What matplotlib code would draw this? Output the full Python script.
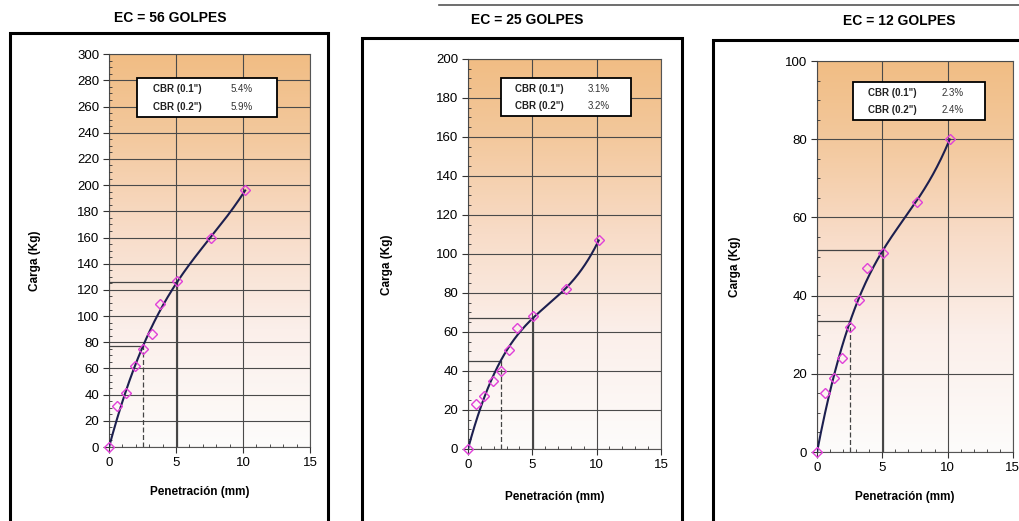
import matplotlib
matplotlib.use("Agg")
import matplotlib.pyplot as plt
import numpy as np
from matplotlib.colors import LinearSegmentedColormap
from matplotlib.patches import Rectangle
from matplotlib.ticker import MultipleLocator

plt.rcParams['font.family'] = ['Liberation Sans', 'DejaVu Sans']

# penetracion normalizada (mm)
penetracion = [0, 0.63, 1.27, 1.91, 2.54, 3.18, 3.81, 5.08, 7.62, 10.16]

carga_56 = [0, 31, 41, 62, 75, 86, 109, 127, 160, 196]
carga_25 = [0, 23, 27, 35, 40, 51, 62, 68, 82, 107]
carga_12 = [0, 15, 19, 24, 32, 39, 47, 51, 64, 80]

titulos = ['EC = 56 GOLPES', 'EC = 25 GOLPES', 'EC = 12 GOLPES']
cbr_01 = ['5.4%', '3.1%', '2.3%']
cbr_02 = ['5.9%', '3.2%', '2.4%']
y_max = [300, 200, 100]
y_paso = [20, 20, 20]
y_menor = [5, 5, 5]

fig = plt.figure(figsize=(10.2, 5.21), dpi=100)

# posiciones [left, bottom, width, height] de cada grafico
ejes_pos = [[0.1069, 0.142, 0.197, 0.754],
            [0.4588, 0.1382, 0.1892, 0.7486],
            [0.801, 0.1324, 0.192, 0.7505]]
marcos = [[0.010, -0.05, 0.312, 0.987],
          [0.355, -0.05, 0.314, 0.977],
          [0.699, -0.05, 0.32, 0.973]]
titulo_pos = [(0.167, 0.966), (0.517, 0.962), (0.882, 0.960)]
ylabel_x = [0.034, 0.379, 0.721]
xlabel_y = [0.055, 0.046, 0.046]
cajas = [[0.14, 0.84, 0.696, 0.099],
         [0.171, 0.854, 0.674, 0.097],
         [0.184, 0.849, 0.673, 0.097]]

fondo = LinearSegmentedColormap.from_list(
    'fondo', [(0.0, '#fdfcfb'), (0.3, '#fbefea'), (0.55, '#f8dcc8'),
              (0.8, '#f3c89c'), (1.0, '#f1bd84')])
grad = np.linspace(0, 1, 256).reshape(-1, 1)


def ajuste(x, y):
    # cubica que pasa por el origen
    x = np.asarray(x, float)
    A = np.column_stack([x ** 3, x ** 2, x])
    c, *_ = np.linalg.lstsq(A, np.asarray(y, float), rcond=None)
    return lambda t: c[0] * t ** 3 + c[1] * t ** 2 + c[2] * t


for i, carga in enumerate([carga_56, carga_25, carga_12]):
    ax = fig.add_axes(ejes_pos[i])
    ax.imshow(grad, aspect='auto', cmap=fondo, origin='lower',
              extent=[0, 1, 0, 1], transform=ax.transAxes, zorder=0)

    # curva ajustada
    f = ajuste(penetracion, carga)
    xs = np.linspace(0, penetracion[-1], 200)
    ax.plot(xs, f(xs), color='#1c1f4f', lw=1.5, zorder=4)
    ax.plot(penetracion, carga, linestyle='none', marker='D', ms=5,
            mfc='none', mec='#e040d8', mew=1.0, zorder=5, clip_on=False)

    # lineas de lectura a 0.1" y 0.2"
    for xr, ls in [(2.54, (0, (4, 2))), (5.08, '-')]:
        yr = f(xr)
        ax.plot([xr, xr], [0, yr], color='#444444', lw=0.9, ls=ls, zorder=3)
        ax.plot([0, xr], [yr, yr], color='#444444', lw=0.9, zorder=3)

    ax.set_xlim(0, 15)
    ax.set_ylim(0, y_max[i])
    ax.xaxis.set_major_locator(MultipleLocator(5))
    ax.xaxis.set_minor_locator(MultipleLocator(1))
    ax.yaxis.set_major_locator(MultipleLocator(y_paso[i]))
    ax.yaxis.set_minor_locator(MultipleLocator(y_menor[i]))
    ax.grid(True, which='major', color='#4a4a4a', lw=0.8, zorder=1)
    ax.set_axisbelow(False)
    ax.tick_params(which='major', direction='out', length=4, labelsize=9.5,
                   color='#333333', pad=3)
    ax.tick_params(which='minor', direction='in', length=2.5, color='#333333')
    for s in ax.spines.values():
        s.set_color('#555555')
        s.set_linewidth(0.8)

    # caja con los valores de CBR
    bx, by, bw, bh = cajas[i]
    ax.add_patch(Rectangle((bx, by), bw, bh, transform=ax.transAxes,
                           facecolor='white', edgecolor='black', lw=1.3, zorder=6))
    for fila, (etq, val) in enumerate([('CBR (0.1")', cbr_01[i]),
                                       ('CBR (0.2")', cbr_02[i])]):
        yy = by + bh * (0.72 - 0.45 * fila)
        ax.text(bx + 0.11 * bw, yy, etq, transform=ax.transAxes, fontsize=7,
                fontweight='bold', va='center', color='#222222', zorder=7)
        ax.text(bx + 0.67 * bw, yy, val, transform=ax.transAxes, fontsize=7,
                va='center', color='#333333', zorder=7)

    # marco exterior de cada grafico
    mx, my, mw, mh = marcos[i]
    fig.patches.append(Rectangle((mx, my), mw, mh, transform=fig.transFigure,
                                 fill=False, edgecolor='black', lw=2.2))

    fig.text(titulo_pos[i][0], titulo_pos[i][1], titulos[i], ha='center',
             va='center', fontsize=10, fontweight='bold')
    fig.text(ylabel_x[i], ejes_pos[i][1] + ejes_pos[i][3] / 2 - 0.02, 'Carga (Kg)',
             rotation=90, ha='center', va='center', fontsize=8.5, fontweight='bold')
    fig.text(ejes_pos[i][0] + ejes_pos[i][2] / 2 - 0.01, xlabel_y[i], 'Penetración (mm)',
             ha='center', va='center', fontsize=8.5, fontweight='bold')

# linea superior del formato
fig.add_artist(plt.Line2D([0.43, 1.0], [0.99, 0.99], color='#555555', lw=1.2,
                          transform=fig.transFigure))

fig.savefig('out.png', dpi=100)
